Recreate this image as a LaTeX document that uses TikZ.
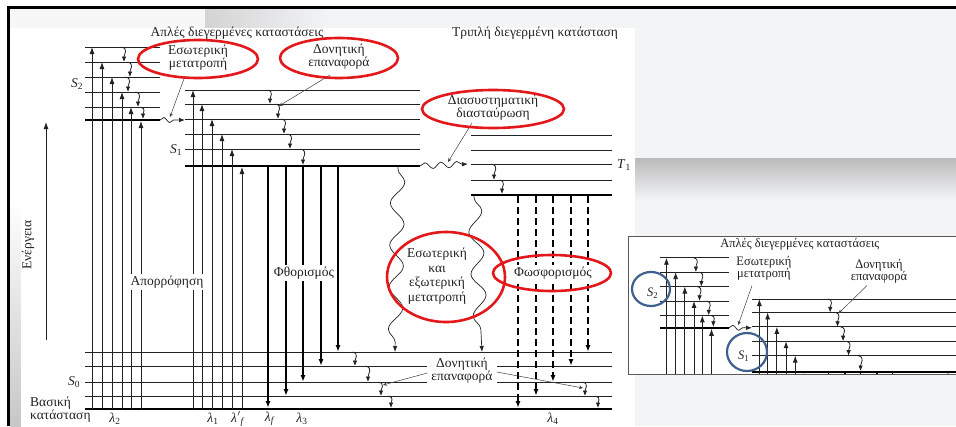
\documentclass[tikz,border=0pt]{standalone}
\usepackage{fontspec}
\setmainfont{Liberation Serif}
\usetikzlibrary{arrows.meta,decorations.pathmorphing,shapes.geometric}
\definecolor{slidebg}{HTML}{F3F4F6}
\definecolor{ovalred}{HTML}{E3181B}
\definecolor{ovalblue}{HTML}{3F5F8F}
\definecolor{ink}{HTML}{222222}
\newif\ifinsetview
\tikzset{
  lvl/.style={line width=0.85pt, draw=ink},
  lvlthick/.style={line width=2.6pt, draw=black},
  absarrow/.style={line width=0.85pt, draw=ink, -{Latex[length=7pt,width=5pt]}},
  fluo/.style={line width=1.4pt, draw=black, -{Latex[length=7pt,width=5pt]}},
  phos/.style={line width=1.5pt, draw=black, dash pattern=on 7pt off 4pt, -{Latex[length=7pt,width=5pt]}},
  relax/.style={line width=0.8pt, draw=ink, -{Latex[length=5.5pt,width=4.5pt]}},
  wavyv/.style={line width=0.7pt, draw=ink, -{Latex[length=6pt,width=4.5pt]}, decorate,
    decoration={snake, amplitude=7pt, segment length=42pt, pre length=2pt, post length=6pt}},
  wavyh/.style={line width=0.7pt, draw=ink, -{Latex[length=6pt,width=4.5pt]}, decorate,
    decoration={snake, amplitude=2.5pt, segment length=12pt, post length=6pt}},
  ptr/.style={line width=0.5pt, draw=black!75, -{Stealth[length=4pt,width=3.5pt]}},
  lab/.style={font=\fontsize{13.5}{13}\selectfont, inner sep=0pt, align=center, text=ink},
  wlab/.style={lab, fill=white, inner xsep=2pt, inner ysep=2pt},
  redoval/.style={draw=ovalred, line width=2.6pt},
  blueoval/.style={draw=ovalblue, line width=2.2pt},
}
\newcommand{\diagcore}{%
  % S2 levels
  \foreach \y in {47,62,77,92,107} \draw[lvl] (85,\y) -- (160,\y);
  \draw[lvlthick] (85,120) -- (160,120);
  % S1 levels
  \foreach \y in {90,104,119,134,149} \draw[lvl] (185,\y) -- (420,\y);
  \draw[lvlthick] (185,166) -- (420,166);
  % T1 levels
  \foreach \y in {135,150,164,180} \draw[lvl] (471,\y) -- (612,\y);
  \draw[lvlthick] (471,195) -- (612,195);
  % S0 levels
  \foreach \y in {352,366,382,396} \draw[lvl] (85,\y) -- (612,\y);
  \draw[lvlthick] (85,409) -- (612,409);
  % absorption
  \foreach \x/\y in {92/47,102/62,112/77,122/92,131/107,141/121,193/90,202/104,212/119,222/134,232/149,242/167}
    \draw[absarrow] (\x,409) -- (\x,\y);
  % vibrational relaxation
  \foreach \x/\a/\b in {124/47/62,130/62/77,128/77/92,138/92/107,143/107/119,
                        270/90/104,278/104/119,284/119/134,290/134/149,303/149/165,
                        494/164/180,502/180/194,
                        355/352/366,368/366/382,381/382/396,391/396/408,
                        585/382/396,598/396/408}
    \draw[relax] ({\x-2.5},\a) to[out=-15,in=90,looseness=1.3] (\x,\b);
  % fluorescence
  \foreach \x/\y in {268/408,286/396,303/382,321/366,338/352}
    \draw[fluo] (\x,167) -- (\x,\y);
  % phosphorescence
  \foreach \x/\y in {518/408,536/396,553/382,571/366,588/352}
    \draw[phos] (\x,196) -- (\x,\y);
  % wavy transitions
  \draw[wavyv] (398,167) -- (395,352);
  \draw[wavyv] (474,196) -- (482,352);
  \draw[wavyh] (160,120) -- (185,120);
  \draw[wavyh, decoration={snake, amplitude=3pt, segment length=16pt, post length=6pt}] (420,166) -- (468,164);
  % texts visible in both views
  \node[lab] (s2) at (77,84) {\textit{S}\textsubscript{2}};
  \node[lab] (s1) at (176,150) {\textit{S}\textsubscript{1}};
  \node[lab] (singlets) at (237,33) {Απλές διεγερμένες καταστάσεις};
  \node[lab] (ic) at (198,58) {Εσωτερική\\μετατροπή};
  \draw[ptr] (185,76) -- (170,117);
  \ifinsetview\else
  % energy axis
  \draw[absarrow] (46,340) -- (46,122);
  \node[lab, rotate=90] (energy) at (28,245) {Ενέργεια};
  \node[lab] (s0) at (74,382) {\textit{S}\textsubscript{0}};
  \node[lab] (t1) at (624,165) {\textit{T}\textsubscript{1}};
  \node[lab, align=left, anchor=south west] (ground) at (30,423) {Βασική\\κατάσταση};
  \node[lab] (triplet) at (535,33) {Τριπλή διεγερμένη κατάσταση};
  \node[lab] (isc) at (493,108) {Διασυστηματική\\διασταύρωση};
  \draw[ptr] (472,123) -- (448,162);
  \node[wlab] (abs) at (167,282) {Απορρόφηση};
  \node[wlab] (fl) at (304,273) {Φθορισμός};
  \node[wlab] (ph) at (553,273) {Φωσφορισμός};
  \node[lab, font=\fontsize{13.5}{14.5}\selectfont] (ice) at (437,276) {Εσωτερική\\και\\εξωτερική\\μετατροπή};
  \node[wlab, inner xsep=4pt, inner ysep=1pt] (vr0) at (462,371) {Δονητική\\επαναφορά};
  \draw[ptr] (vr0.west) ++(0,2) -- (383,385);
  \draw[ptr] (vr0.east) ++(0,1) -- (583,388);
  % wavelengths
  \node[lab] (l2) at (115,419) {\textit{λ}\textsubscript{2}};
  \node[lab] (l1) at (213,419) {\textit{λ}\textsubscript{1}};
  \node[lab] (lfp) at (238,419) {\textit{λ}\kern0.5pt$'$\textsubscript{\textit{f}}};
  \node[lab] (lf) at (270,419) {\textit{λ}\textsubscript{\textit{f}}};
  \node[lab] (l3) at (302,419) {\textit{λ}\textsubscript{3}};
  \node[lab] (l4) at (553,419) {\textit{λ}\textsubscript{4}};
  \fi
}
\begin{document}
\begin{tikzpicture}[x=1pt,y=-1pt]
\useasboundingbox (0,0) rectangle (956,426);
% slide background
\fill[white] (0,0) rectangle (956,426);
\fill[slidebg] (9,9) rectangle (956,426);
\fill[white!97!black] (9,9) rectangle (205,28);
\shade[left color=black!17, right color=slidebg] (205,9) rectangle (330,28);
\fill[white] (9,28) rectangle (21,200);
\shade[top color=white, bottom color=black!22] (10,200) rectangle (21,426);
\fill[white] (21,28) rectangle (635,426);
\shade[top color=black!27, bottom color=slidebg] (635,158) rectangle (956,200);
\draw[line width=3pt, black] (8,426) -- (8,7) -- (956,7);
% main diagram
\insetviewfalse
\diagcore
\node[lab] (vrtop) at (339,57) {Δονητική\\επαναφορά};
\draw[ptr] (330,75) -- (279,106);
% red ovals
\draw[redoval] (198,59) ellipse [x radius=60, y radius=19];
\draw[redoval] (339,58) ellipse [x radius=59, y radius=20];
\draw[redoval] (493,109) ellipse [x radius=71, y radius=19];
\draw[redoval] (446,277) ellipse [x radius=59, y radius=45];
\draw[redoval] (552,273) ellipse [x radius=59, y radius=18];
% inset
\fill[white] (628,236) rectangle (958,374);
\begin{scope}
  \clip (628,236) rectangle (956,374);
  \begin{scope}[shift={(581.8,212.6)}, xscale=0.92, yscale=0.96, every node/.append style={transform shape}]
    \insetviewtrue
    \diagcore
    \node[lab] (vrinset) at (323,61) {Δονητική\\επαναφορά};
    \draw[ptr] (310,76) -- (279,105);
  \end{scope}
\end{scope}
\draw[black!65, line width=0.8pt] (958,236) -- (628,236) -- (628,374) -- (958,374);
\draw[blueoval] (651,289) ellipse [x radius=19, y radius=17];
\draw[blueoval] (747,352) ellipse [x radius=20, y radius=19];
\end{tikzpicture}
\end{document}
